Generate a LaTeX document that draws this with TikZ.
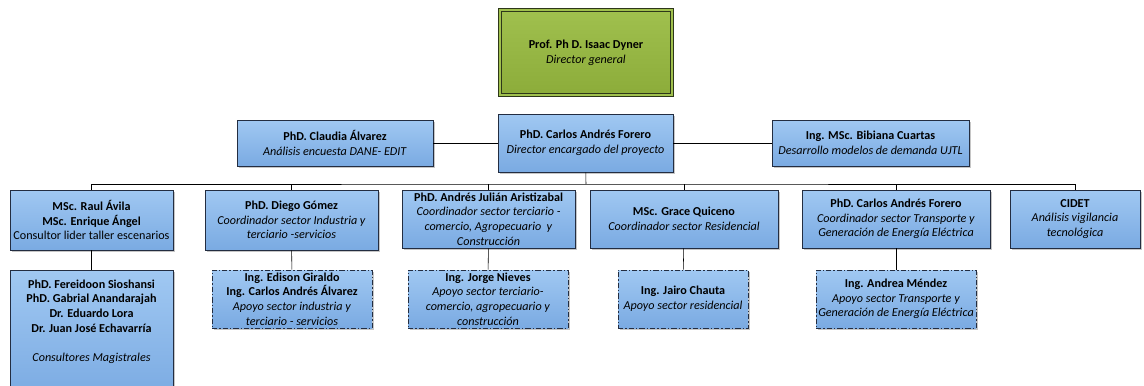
\documentclass[tikz,border=0pt]{standalone}
\usepackage{fontspec}
\setmainfont{Carlito}
\usetikzlibrary{shadows}
\definecolor{azulA}{RGB}{160,200,242}
\definecolor{azulB}{RGB}{122,170,226}
\definecolor{borde}{RGB}{35,45,65}
\definecolor{verdeA}{RGB}{160,192,78}
\definecolor{verdeB}{RGB}{140,172,58}
\definecolor{verdeO}{RGB}{45,55,25}
\tikzset{
  cargo/.style={rectangle,draw=borde,line width=0.6pt,top color=azulA,bottom color=azulB,
    drop shadow={shadow xshift=1.5pt,shadow yshift=-1.5pt,opacity=0.45},
    align=center,inner sep=1pt,font=\fontsize{9.1}{11}\selectfont},
  apoyo/.style={cargo,dash pattern=on 4pt off 1.5pt on 1pt off 1.5pt},
  jefe/.style={rectangle,draw=verdeO,line width=0.7pt,double=verdeA,double distance=1.2pt,
    top color=verdeA,bottom color=verdeB,
    drop shadow={shadow xshift=1.5pt,shadow yshift=-1.5pt,opacity=0.45},
    align=center,inner sep=1pt,font=\fontsize{9.1}{11}\selectfont},
}

\begin{document}
\begin{tikzpicture}[x=0.75pt,y=-0.75pt]
\useasboundingbox (0,0) rectangle (1144,385);
\path (586,52.5) node[jefe,minimum width=129pt,minimum height=63.75pt] (dyner)
  {\textbf{Prof. Ph D. Isaac Dyner}\\\textit{Director general}};
% segundo nivel
\path (585.5,143) node[cargo,minimum width=131.25pt,minimum height=43.5pt] (forero)
  {\textbf{PhD. Carlos Andrés Forero}\\\textit{Director encargado del proyecto}};
\path (335,143) node[cargo,minimum width=147pt,minimum height=34.5pt] (claudia)
  {\textbf{PhD. Claudia Álvarez}\\\textit{Análisis encuesta DANE- EDIT}};
\path (870.5,143) node[cargo,minimum width=147.75pt,minimum height=34.5pt] (bibiana)
  {\textbf{Ing. MSc. Bibiana Cuartas}\\\textit{Desarrollo modelos de demanda UJTL}};
\draw (claudia) -- (forero);
\draw (forero) -- (bibiana);
% coordinadores
\path (91.5,220) node[cargo,minimum width=122.25pt,minimum height=45pt] (raul)
  {\textbf{MSc. Raul Ávila}\\\textbf{MSc. Enrique Ángel}\\Consultor lider taller escenarios};
\path (291.5,220) node[cargo,minimum width=129.75pt,minimum height=45pt] (diego)
  {\textbf{PhD. Diego Gómez}\\\textit{Coordinador sector Industria y}\\\textit{terciario -servicios}};
\path (488.5,219) node[cargo,minimum width=129.75pt,minimum height=43.5pt] (andres)
  {\textbf{PhD. Andrés Julián Aristizabal}\\\textit{Coordinador sector terciario -}\\\textit{comercio, Agropecuario \ y}\\\textit{Construcción}};
\path (684,219) node[cargo,minimum width=141pt,minimum height=43.5pt] (grace)
  {\textbf{MSc. Grace Quiceno}\\\textit{Coordinador sector Residencial}};
\path (896,219) node[cargo,minimum width=141pt,minimum height=43.5pt] (forerob)
  {\textbf{PhD. Carlos Andrés Forero}\\\textit{Coordinador sector Transporte y}\\\textit{Generación de Energía Eléctrica}};
\path (1075,219) node[cargo,minimum width=97.5pt,minimum height=43.5pt] (cidet)
  {\textbf{CIDET}\\\textit{Análisis vigilancia}\\\textit{tecnológica}};
\coordinate (barra) at (586,184);
\draw (forero) -- (barra);
\draw (raul.north) |- (barra) -| (cidet.north);
\foreach \n in {diego,andres,grace,forerob}
  \draw (\n.north) -- (\n.north |- barra);
% apoyo
\path (91.5,270) node[cargo,anchor=north,minimum width=122.25pt,minimum height=97.5pt] (magistrales)
  {\textbf{PhD. Fereidoon Sioshansi}\\\textbf{PhD. Gabrial Anandarajah}\\\textbf{Dr. Eduardo Lora}\\\textbf{Dr. Juan José Echavarría}\\[11pt]\textit{Consultores Magistrales}\\\mbox{}\\\mbox{}};
\path (292,299) node[apoyo,minimum width=120pt,minimum height=43.5pt] (edison)
  {\textbf{Ing. Edison Giraldo}\\\textbf{Ing. Carlos Andrés Álvarez}\\\textit{Apoyo sector industria y}\\\textit{terciario - servicios}};
\path (488,299) node[apoyo,minimum width=120pt,minimum height=43.5pt] (jorge)
  {\textbf{Ing. Jorge Nieves}\\\textit{Apoyo sector terciario-}\\\textit{comercio, agropecuario y}\\\textit{construcción}};
\path (683,299) node[apoyo,minimum width=97.5pt,minimum height=43.5pt] (jairo)
  {\textbf{Ing. Jairo Chauta}\\\textit{Apoyo sector residencial}};
\path (896,299) node[apoyo,minimum width=120pt,minimum height=43.5pt] (andrea)
  {\textbf{Ing. Andrea Méndez}\\\textit{Apoyo sector Transporte y}\\\textit{Generación de Energía Eléctrica}};
\draw (raul) -- (magistrales);
\draw (diego) -- (edison);
\draw (andres) -- (jorge);
\draw (grace) -- (jairo);
\draw (forerob) -- (andrea);
\end{tikzpicture}
\end{document}
